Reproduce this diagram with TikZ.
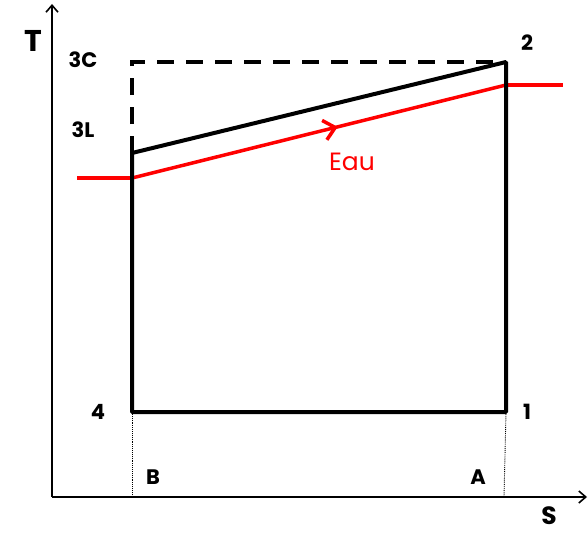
\documentclass[tikz,border=0pt]{standalone}
\usepackage{fontspec}
\setmainfont{Poppins}
\usetikzlibrary{arrows.meta,decorations.markings}

\begin{document}
\begin{tikzpicture}[
  x=1pt, y=-1pt,
  cycleline/.style={line width=4pt, line join=bevel},
  limit/.style={line width=3.5pt, dash pattern=on 17pt off 12pt},
  water/.style={red, line width=3.5pt},
  axis/.style={-{Straight Barb[length=7pt,width=12pt]}, line width=1.6pt},
  guide/.style={densely dotted, line width=0.9pt},
  state/.style={font=\bfseries\fontsize{21}{23}\selectfont, inner sep=0pt},
  axlabel/.style={font=\bfseries\fontsize{30}{32}\selectfont, inner sep=0pt}
]
\useasboundingbox (0,0) rectangle (588,535);

% axes
\coordinate (origin) at (52,497);
\coordinate (ytop) at (52,4);
\coordinate (xend) at (587,497);
\draw[axis] (origin) -- (ytop);
\draw[axis] (origin) -- (xend);
\node[axlabel] (T) at (33,41) {T};
\node[axlabel, font=\bfseries\fontsize{25}{27}\selectfont] (S) at (549,516) {S};

% cycle corners
\coordinate (p1) at (506,412);
\coordinate (p2) at (506,62);
\coordinate (p3C) at (132,62);
\coordinate (p3L) at (132,153);
\coordinate (p4) at (132,412);
\coordinate (pA) at (504,497);
\coordinate (pB) at (132,497);

% water line
\coordinate (win) at (77,178);
\coordinate (wB) at (132,178);
\coordinate (wA) at (506,85);
\coordinate (wout) at (563,85);
\draw[water] (win) -- (wB);
\draw[water, postaction={decorate}, decoration={markings,
  mark=at position 0.55 with {\arrow{Straight Barb[length=11pt,width=20pt,line width=3.5pt]}}}]
  (wB) -- (wA);
\draw[water] (wA) -- (wout);
\node[red, font=\fontsize{25}{27}\selectfont, inner sep=0pt] (eau) at (352,162) {Eau};

% cycle
\draw[cycleline] (p3L) -- (p4) -- (p1) -- (p2) -- cycle;
\draw[limit] (p3L) -- (p3C) -- (p2);

% guides to the S axis
\draw[guide] (p4) -- (pB);
\draw[guide] (p1) -- (pA);

% labels
\node[state] (l1) at (527,412) {1};
\node[state] (l2) at (527,43) {2};
\node[state] (l3C) at (83,60) {3C};
\node[state] (l3L) at (83,130) {3L};
\node[state] (l4) at (98,412) {4};
\node[state] (lA) at (478,477) {A};
\node[state] (lB) at (153,477) {B};
\end{tikzpicture}
\end{document}
